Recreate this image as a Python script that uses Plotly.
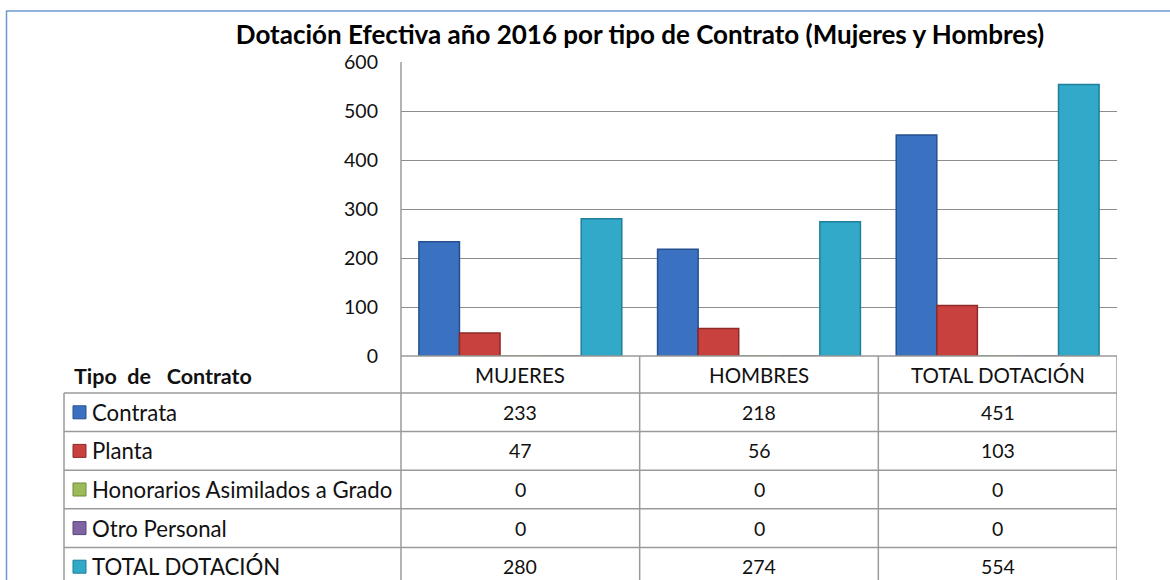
import plotly.graph_objects as go

# ---- data ----
categories = ["MUJERES", "HOMBRES", "TOTAL DOTACIÓN"]
series_names = ["Contrata", "Planta", "Honorarios Asimilados a Grado", "Otro Personal", "TOTAL DOTACIÓN"]
contrata = [233, 218, 451]
planta = [47, 56, 103]
honorarios = [0, 0, 0]
otro = [0, 0, 0]
total = [280, 274, 554]
series_values = [contrata, planta, honorarios, otro, total]
y_ticks = [0, 100, 200, 300, 400, 500, 600]
title_text = "Dotación Efectiva año 2016 por tipo de Contrato (Mujeres y Hombres)"
table_header = "Tipo\u00a0 de\u00a0\u00a0 Contrato"

# ---- style ----
colors = ["#3B71C1", "#C9413E", "#9BBB59", "#8064A2", "#33A9CA"]
edges = ["#24508F", "#8E2A28", "#6E8A3A", "#5A4578", "#1F7F99"]
W, H = 1170, 580
FONT = "Lato, 'Open Sans', sans-serif"
GRID = "#8C8C8C"
TBL = "#9A9A9A"
TXT = "#111111"


def px(x):
    return x / W


def py(y):
    return 1 - y / H


plot_left, plot_right = 401, 1117
plot_top, plot_bottom = 62, 356
header_bottom = 393
row_h = 38.6
label_left = 64

fig = go.Figure()
for name, vals, c, e in zip(series_names, series_values, colors, edges):
    fig.add_trace(go.Bar(
        x=categories, y=vals, name=name,
        marker=dict(color=c, line=dict(color=e, width=1.5)),
        showlegend=False,
    ))

shapes = []
annotations = []

# outer frame (top + left)
shapes.append(dict(type="line", xref="paper", yref="paper", x0=px(6), x1=1.0, y0=py(11), y1=py(11),
                   line=dict(color="#6E97CF", width=1.5)))
shapes.append(dict(type="line", xref="paper", yref="paper", x0=px(6.5), x1=px(6.5), y0=py(11), y1=0,
                   line=dict(color="#6E97CF", width=1.5)))

n_rows = len(series_names)
row_lines = [header_bottom + i * row_h for i in range(n_rows + 1)]
table_bottom = row_lines[-1]

# x axis line / header top
shapes.append(dict(type="line", xref="paper", yref="paper", x0=px(plot_left), x1=px(plot_right),
                   y0=py(plot_bottom), y1=py(plot_bottom), line=dict(color=TBL, width=1.5)))
# horizontal row lines
for yl in row_lines:
    shapes.append(dict(type="line", xref="paper", yref="paper", x0=px(label_left), x1=px(plot_right),
                       y0=py(yl), y1=py(yl), line=dict(color=TBL, width=1.5)))
# vertical lines
shapes.append(dict(type="line", xref="paper", yref="paper", x0=px(label_left), x1=px(label_left),
                   y0=py(header_bottom), y1=py(table_bottom), line=dict(color=TBL, width=1.5)))
shapes.append(dict(type="line", xref="paper", yref="paper", x0=px(plot_left), x1=px(plot_left),
                   y0=py(plot_top), y1=py(table_bottom), line=dict(color=TBL, width=1.5)))
for b in [0.5, 1.5, 2.5]:
    shapes.append(dict(type="line", xref="x", yref="paper", x0=b, x1=b,
                       y0=py(plot_bottom), y1=py(table_bottom), line=dict(color=TBL, width=1.5)))

# header texts
header_mid = (plot_bottom + header_bottom) / 2
for cat in categories:
    annotations.append(dict(x=cat, xref="x", y=py(header_mid), yref="paper", text=cat,
                            showarrow=False, font=dict(family=FONT, size=20.5, color=TXT),
                            xanchor="center", yanchor="middle"))
annotations.append(dict(x=px(72), xref="paper", y=py(header_mid + 1), yref="paper",
                        text="<b>" + table_header + "</b>",
                        showarrow=False, font=dict(family=FONT, size=21.5, color=TXT),
                        xanchor="left", yanchor="middle"))

# rows
for i, (name, vals, c, e) in enumerate(zip(series_names, series_values, colors, edges)):
    mid = row_lines[i] + row_h / 2
    shapes.append(dict(type="rect", xref="paper", yref="paper", x0=px(73), x1=px(86),
                       y0=py(mid - 6.5), y1=py(mid + 6.5), fillcolor=c, line=dict(color=e, width=1)))
    annotations.append(dict(x=px(90), xref="paper", y=py(mid), yref="paper", text=name,
                            showarrow=False, font=dict(family=FONT, size=22.2, color=TXT),
                            xanchor="left", yanchor="middle"))
    for cat, v in zip(categories, vals):
        annotations.append(dict(x=cat, xref="x", y=py(mid), yref="paper", text=str(v),
                                showarrow=False, font=dict(family=FONT, size=19.5, color=TXT),
                                xanchor="center", yanchor="middle"))

fig.update_layout(
    width=W, height=H,
    margin=dict(l=0, r=0, t=0, b=0, autoexpand=False),
    paper_bgcolor="white", plot_bgcolor="white",
    barmode="group", bargap=0.15, bargroupgap=0,
    title=dict(text="<b>" + title_text + "</b>", x=px(640), y=py(35), xanchor="center", yanchor="middle",
               font=dict(family=FONT, size=26, color="#000")),
    xaxis=dict(domain=[px(plot_left), px(plot_right)], showticklabels=False, showgrid=False,
               showline=False, zeroline=False, range=[-0.5, 2.5], automargin=False),
    yaxis=dict(domain=[py(plot_bottom), py(plot_top)], range=[0, 600], tickvals=y_ticks,
               showgrid=True, gridcolor=GRID, gridwidth=1.3, zeroline=False, showline=False,
               tickfont=dict(family=FONT, size=19.5, color=TXT), ticks="", ticklabelstandoff=22,
               automargin=False),
    shapes=shapes,
    annotations=annotations,
)

fig.write_html("out.html", config={"displayModeBar": False},
               post_script="document.body.style.margin='0px';document.body.style.overflow='hidden';")
